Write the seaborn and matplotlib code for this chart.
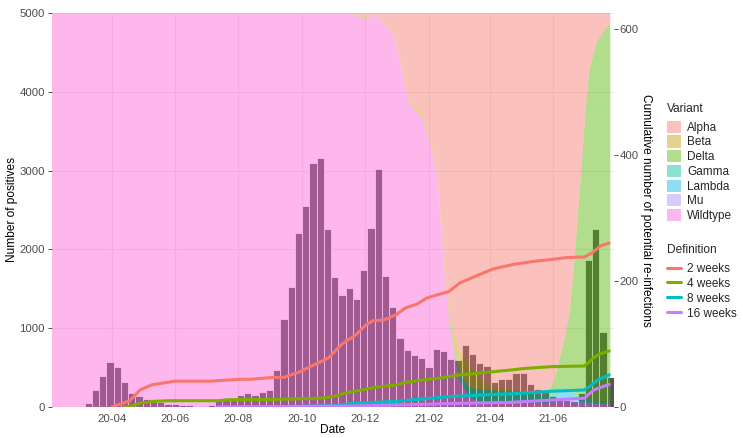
import numpy as np
import pandas as pd
import matplotlib
matplotlib.use("Agg")
import matplotlib.pyplot as plt
import matplotlib.dates as mdates
from matplotlib.patches import Patch
from matplotlib.lines import Line2D
import seaborn as sns

# ---------------- data ----------------
# weekly number of positives (week starting Monday)
bar_first_week = "2020-02-24"
positives = [3, 5, 50, 216, 398, 575, 512, 321, 178, 135, 106, 93, 63, 42, 34, 25,
             20, 18, 18, 22, 85, 95, 110, 148, 182, 158, 186, 210, 470, 1113, 1519,
             2204, 2551, 3096, 3160, 2255, 1654, 1417, 1510, 1366, 1738, 2276, 3024,
             1666, 1265, 880, 723, 656, 618, 512, 736, 705, 615, 597, 787, 673, 562,
             525, 317, 351, 351, 427, 435, 288, 225, 216, 140, 110, 90, 75, 180,
             1865, 2255, 948, 385]

# variant shares (fraction of sequenced samples)
area_dates = ["2020-02-03", "2020-11-16", "2020-11-29", "2020-12-13", "2020-12-22",
              "2020-12-28", "2021-01-01", "2021-01-07", "2021-01-13", "2021-01-25",
              "2021-02-02", "2021-02-09", "2021-02-13", "2021-02-18", "2021-02-21",
              "2021-02-25", "2021-03-03", "2021-03-12", "2021-03-20", "2021-04-01",
              "2021-04-20", "2021-05-10", "2021-05-24", "2021-06-01", "2021-06-07",
              "2021-06-12", "2021-06-17", "2021-06-21", "2021-06-25", "2021-07-03",
              "2021-07-06", "2021-07-13", "2021-07-23", "2021-07-26"]
share_wildtype = [1, 1, .987, .995, .965, .95, .914, .837, .772, .736, .67, .594, .442,
                  .29, .213, .137, .068, .025, .015, .012, .01, .01, .01, .01, .01, .01,
                  .008, .007, .005, .004, .004, .004, .004, .004]
share_mu = [0] * 23 + [.003, .008, .01, .012, .012, .01, .008, .006, .004, .003, .003]
share_lambda = [0] * 23 + [.003, .012, .022, .015, .01, .006, .003, .002, .001, 0, 0]
share_gamma = [0] * 14 + [.005, .01, .015, .025, .03, .03, .03, .025, .02, .015, .012,
                          .01, .01, .008, .008, .005, .005, .004, .004, .004]
share_delta = [0] * 23 + [.03, .08, .12, .2, .32, .47, .76, .84, .915, .955, .96]
share_beta = [0, 0, .005, 0, .005, .005, .005, .008, .008, .01, .01, .01, .015, .02,
              .03, .04, .06, .055, .03, .01, .005, 0, 0, 0, 0, 0, 0, 0, 0, 0, 0, 0, 0, 0]
share_alpha = [0, 0, .008, .005, .03, .045, .081, .155, .22, .254, .32, .396, .543,
               .69, .752, .813, .857, .895, .925, .948, .955, .965, .97, .939, .878,
               .828, .755, .643, .501, .22, .143, .072, .034, .029]

variant_names = ["Alpha", "Beta", "Delta", "Gamma", "Lambda", "Mu", "Wildtype"]
variant_colors = ["#F8766D", "#C49A00", "#53B400", "#00C094", "#00B6EB", "#A58AFF", "#FB61D7"]

# cumulative number of potential re-infections per definition
reinf_2w_dates = ["2020-04-01", "2020-04-18", "2020-04-28", "2020-05-09", "2020-05-20",
                  "2020-06-01", "2020-07-05", "2020-08-03", "2020-08-13", "2020-09-04",
                  "2020-09-14", "2020-09-28", "2020-10-13", "2020-10-27", "2020-11-09",
                  "2020-11-22", "2020-12-02", "2020-12-09", "2020-12-19", "2020-12-31",
                  "2021-01-09", "2021-01-20", "2021-01-30", "2021-02-07", "2021-02-20",
                  "2021-03-03", "2021-03-13", "2021-03-23", "2021-04-04", "2021-04-23",
                  "2021-05-13", "2021-05-30", "2021-06-14", "2021-07-01", "2021-07-08",
                  "2021-07-17", "2021-07-25"]
reinf_2w = [0, 10, 27, 35, 38, 41, 41, 44, 44, 47, 47, 55, 67, 78, 100, 114, 130, 137,
            138, 146, 157, 163, 173, 177, 183, 197, 204, 211, 219, 226, 231, 234, 237,
            238, 244, 256, 260]
reinf_4w_dates = ["2020-04-13", "2020-04-21", "2020-04-28", "2020-05-11", "2020-05-27",
                  "2020-07-12", "2020-07-22", "2020-09-04", "2020-10-20", "2020-11-02",
                  "2020-11-12", "2020-11-28", "2020-12-10", "2020-12-31", "2021-01-09",
                  "2021-01-26", "2021-02-12", "2021-03-03", "2021-03-23", "2021-04-04",
                  "2021-04-23", "2021-05-03", "2021-05-30", "2021-07-01", "2021-07-08",
                  "2021-07-14", "2021-07-25"]
reinf_4w = [0, 2, 6, 9, 10, 10, 11.5, 12, 14, 17, 22, 27, 31, 35, 39, 43, 46, 51, 54,
            56, 59, 61, 64, 65, 75, 83, 89]
reinf_8w_dates = ["2020-07-14", "2020-10-01", "2020-11-03", "2020-11-20", "2020-12-28",
                  "2021-01-24", "2021-02-25", "2021-03-29", "2021-04-23", "2021-05-30",
                  "2021-07-01", "2021-07-08", "2021-07-14", "2021-07-25"]
reinf_8w = [0, 1, 2, 6, 8.5, 12.5, 17, 19.5, 21, 25, 27, 35, 43, 51]
reinf_16w_dates = ["2020-07-12", "2020-11-20", "2021-01-07", "2021-02-25", "2021-04-23",
                   "2021-05-30", "2021-07-01", "2021-07-10", "2021-07-25"]
reinf_16w = [0, 1.5, 3.5, 5.5, 7.5, 11, 14, 27, 36]

definition_names = ["2 weeks", "4 weeks", "8 weeks", "16 weeks"]
definition_colors = ["#F8766D", "#7CAE00", "#00BFC4", "#C77CFF"]

# ---------------- style ----------------
sns.set_style("white")
plt.rcParams["font.family"] = ["Liberation Sans", "DejaVu Sans"]

AREA_ALPHA = 0.45

fig = plt.figure(figsize=(7.43, 4.38), dpi=100)
ax = fig.add_axes([52 / 743, 1 - 407 / 438, (614 - 52) / 743, (407 - 13) / 438])

bar_dates = pd.date_range(bar_first_week, periods=len(positives), freq="7D")
ax.bar(bar_dates, positives, width=7, color="#555555", edgecolor="white",
       linewidth=0.6, zorder=2)

adates = pd.to_datetime(area_dates)
stack_vals = [share_wildtype, share_mu, share_lambda, share_gamma, share_delta,
              share_beta, share_alpha]
stack_cols = [variant_colors[6], variant_colors[5], variant_colors[4], variant_colors[3],
              variant_colors[2], variant_colors[1], variant_colors[0]]
polys = ax.stackplot(adates, *[np.array(v) * 5000 for v in stack_vals],
                     colors=stack_cols, alpha=AREA_ALPHA, zorder=3, linewidth=0)
for p in polys:
    p.set_edgecolor("none")

ax.set_xlim(pd.Timestamp("2020-02-03"), pd.Timestamp("2021-07-29 14:00"))
ax.set_ylim(0, 5000)
ax.set_yticks([0, 1000, 2000, 3000, 4000, 5000])
ax.xaxis.set_major_locator(mdates.MonthLocator(bymonth=[2, 4, 6, 8, 10, 12]))
ax.xaxis.set_major_formatter(mdates.DateFormatter("%y-%m"))
ax.grid(True, color="#EBEBEB", linewidth=0.8)
ax.set_axisbelow(True)
for s in ax.spines.values():
    s.set_visible(False)
ax.tick_params(axis="both", length=3, width=0.6, color="#333333", labelsize=8.2,
               labelcolor="#4D4D4D", pad=2.0)
ax.set_xlabel("Date", fontsize=8.6, color="black")
ax.set_ylabel("Number of positives", fontsize=8.6, color="black")
ax.xaxis.set_label_coords(0.5, -0.043)
ax.yaxis.set_label_coords(-0.061, 0.5)

# secondary axis with re-infection lines
ax2 = ax.twinx()
line_df = pd.concat([
    pd.DataFrame({"date": pd.to_datetime(d), "value": v, "Definition": n})
    for d, v, n in [(reinf_2w_dates, reinf_2w, "2 weeks"),
                    (reinf_4w_dates, reinf_4w, "4 weeks"),
                    (reinf_8w_dates, reinf_8w, "8 weeks"),
                    (reinf_16w_dates, reinf_16w, "16 weeks")]
], ignore_index=True)
sns.lineplot(data=line_df, x="date", y="value", hue="Definition",
             hue_order=definition_names, palette=definition_colors,
             estimator=None, sort=False, linewidth=2.2, legend=False, ax=ax2)
ax2.set_ylim(0, 625)
ax2.set_yticks([0, 200, 400, 600])
ax2.set_xlim(ax.get_xlim())
ax2.grid(False)
for s in ax2.spines.values():
    s.set_visible(False)
ax2.tick_params(axis="y", length=3, width=0.6, color="#333333", labelsize=8.2,
                labelcolor="#4D4D4D", pad=1.2)
ax2.set_xlabel("")
ax2.set_ylabel("Cumulative number of potential re-infections", fontsize=8.6,
               color="black", rotation=270)
lab = ax2.yaxis.get_label()
lab.set_verticalalignment("center")
lab.set_horizontalalignment("center")
ax2.yaxis.set_label_coords(1.0565, 0.5)

# legends
v_handles = [Patch(facecolor=c, alpha=AREA_ALPHA, edgecolor="none") for c in variant_colors]
leg1 = fig.legend(v_handles, variant_names, title="Variant", loc="upper left",
                  bbox_to_anchor=(667 / 743, 1 - 102.5 / 438), frameon=False,
                  fontsize=8.5, title_fontsize=8.6, handlelength=1.2,
                  handleheight=1.2, labelspacing=0.14, handletextpad=0.5,
                  borderpad=0, borderaxespad=0, alignment="left")
leg1._legend_box.sep = 4.5
d_handles = [Line2D([0], [0], color=c, linewidth=2.2) for c in definition_colors]
leg2 = fig.legend(d_handles, definition_names, title="Definition", loc="upper left",
                  bbox_to_anchor=(667 / 743, 1 - 244 / 438), frameon=False,
                  fontsize=8.5, title_fontsize=8.6, handlelength=1.2,
                  labelspacing=0.25, handletextpad=0.5, borderpad=0,
                  borderaxespad=0, alignment="left")
leg2._legend_box.sep = 4.8

fig.savefig("out.png", dpi=100)
